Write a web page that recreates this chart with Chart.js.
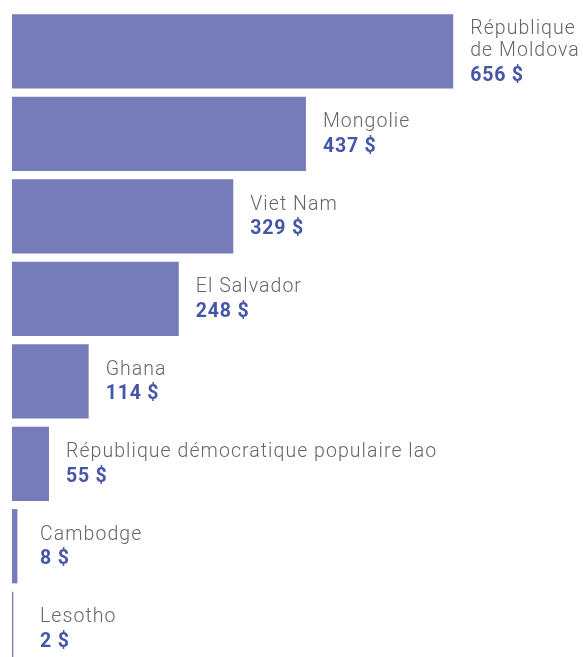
<!DOCTYPE html>
<html><head><meta charset="utf-8">
<script src="https://cdn.jsdelivr.net/npm/chart.js@4/dist/chart.umd.min.js"></script>
<style>html,body{margin:0;padding:0;background:#fff;overflow:hidden}#wrap{width:583px;height:670px;position:relative}</style>
</head><body><div id="wrap"><canvas id="c"></canvas></div>
<script>
const categories = [["République","de Moldova"],["Mongolie"],["Viet Nam"],["El Salvador"],["Ghana"],["République démocratique populaire lao"],["Cambodge"],["Lesotho"]];
const values = [656,437,329,248,114,55,8,2];
const valueLabels = ["656 $","437 $","329 $","248 $","114 $","55 $","8 $","2 $"];

const labelPlugin = {
  id:'labels',
  afterDatasetsDraw(chart){
    const ctx = chart.ctx;
    const meta = chart.getDatasetMeta(0);
    meta.data.forEach((bar,i)=>{
      const lines = categories[i];
      const lh = 22.5, vg = 24.5;
      const total = (lines.length-1)*lh + vg;
      let y = bar.y + 1 - total/2;
      const x = Math.max(40, bar.x + 17);
      ctx.save();
      ctx.textBaseline = 'middle';
      ctx.textAlign = 'left';
      ctx.fillStyle = '#666666';
      ctx.font = '300 19.5px Roboto';
      ctx.letterSpacing = '1.05px';
      lines.forEach((l,k)=>{ ctx.fillText(l, x, y + k*lh); });
      ctx.fillStyle = '#4556a8';
      ctx.font = 'bold 19.5px Roboto';
      ctx.letterSpacing = '0.8px';
      ctx.fillText(valueLabels[i], x, y + (lines.length-1)*lh + vg);
      ctx.restore();
    });
  }
};

new Chart(document.getElementById('c'),{
  type:'bar',
  data:{labels:categories,datasets:[{data:values,backgroundColor:'#767bba',borderWidth:0,categoryPercentage:0.9,barPercentage:1}]},
  options:{
    indexAxis:'y',responsive:true,maintainAspectRatio:false,animation:false,
    layout:{padding:{left:12,top:10,right:0,bottom:0}},
    plugins:{legend:{display:false},tooltip:{enabled:false}},
    scales:{x:{display:false,min:0,max:849},y:{display:false}}
  },
  plugins:[labelPlugin]
});
</script></body></html>
